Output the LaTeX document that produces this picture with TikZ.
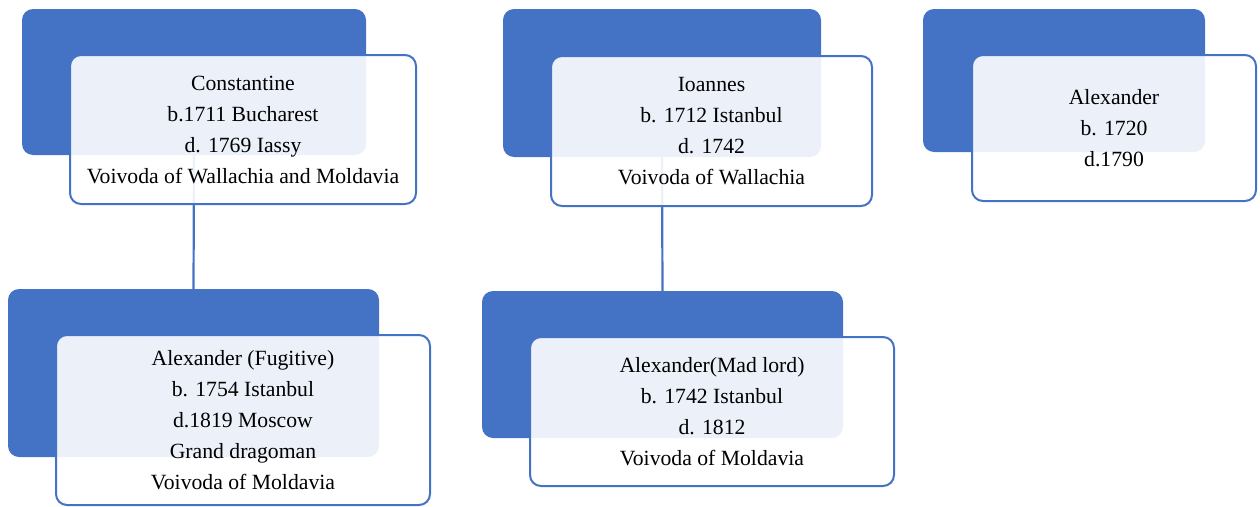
\documentclass[tikz,border=0pt]{standalone}
\usepackage{fontspec}
\setmainfont{Liberation Serif}
\definecolor{accent}{HTML}{4472C4}
\begin{document}
\begin{tikzpicture}[x=1pt,y=-1pt,
  back/.style={fill=accent, rounded corners=11pt, inner sep=0pt, outer sep=0pt},
  front/.style={draw=accent, line width=2pt, fill=white, fill opacity=0.9, text opacity=1,
     rounded corners=11pt, inner sep=0pt, outer sep=0pt, align=center,
     font=\fontsize{21.7}{31}\selectfont},
  link/.style={draw=accent, line width=2.2pt}]
\useasboundingbox (0,0) rectangle (1260,506);
% back panels
\node[back, minimum width=344pt, minimum height=146pt] (b1) at (194,82) {};
\node[back, minimum width=318pt, minimum height=148pt] (b2) at (662,83) {};
\node[back, minimum width=282pt, minimum height=143pt] (b3) at (1064,80.5) {};
\node[back, minimum width=371pt, minimum height=168pt] (b4) at (193.5,373) {};
\node[back, minimum width=361pt, minimum height=147pt] (b5) at (662.5,364.5) {};
% connectors
\draw[link] (b1.south) -- (b4.north);
\draw[link] (b2.south) -- (b5.north);
% front panels
\node[front, minimum width=346pt, minimum height=149pt] (f1) at (243,129.5)
  {Constantine\\b.1711 Bucharest\\d. 1769 Iassy\\Voivoda of Wallachia and Moldavia};
\node[front, minimum width=321pt, minimum height=150pt] (f2) at (711.5,131)
  {Ioannes\\b. 1712 Istanbul\\d. 1742\\Voivoda of Wallachia};
\node[front, minimum width=284pt, minimum height=146pt] (f3) at (1114,128)
  {Alexander\\b. 1720\\d.1790};
\node[front, minimum width=374pt, minimum height=170pt] (f4) at (243,420)
  {Alexander (Fugitive)\\b. 1754 Istanbul\\d.1819 Moscow\\Grand dragoman\\Voivoda of Moldavia};
\node[front, minimum width=364pt, minimum height=149pt] (f5) at (712,411.5)
  {Alexander(Mad lord)\\b. 1742 Istanbul\\d. 1812\\Voivoda of Moldavia};
\end{tikzpicture}
\end{document}
